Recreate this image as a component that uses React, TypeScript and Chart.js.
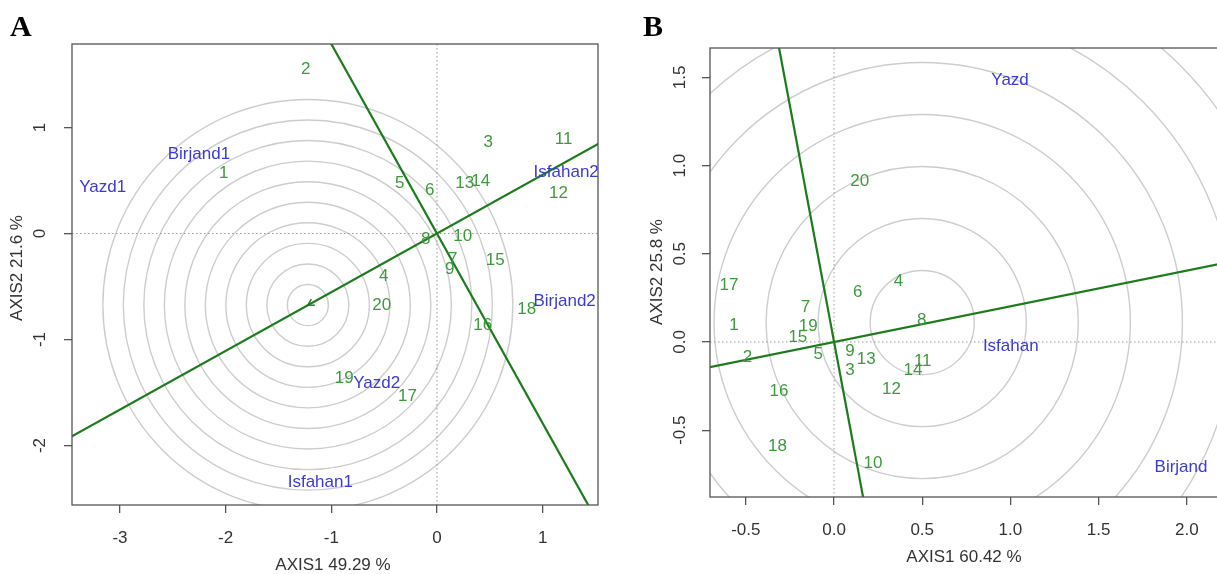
import React, { useEffect, useRef } from "react";
import { Chart, registerables } from "chart.js";

Chart.register(...registerables);

const FONT = '"Liberation Sans", Arial, sans-serif';
const SERIF = '"Liberation Serif", "Times New Roman", serif';
const GREEN_TEXT = "#3d9a3d";
const BLUE_TEXT = "#3a3ad6";
const LINE_GREEN = "#1c7c1c";
const CIRCLE_GRAY = "#cdcdcd";
const AXIS_GRAY = "#555555";
const TEXT_DARK = "#333333";

// ---------- shared ----------
const genotypes = ["1", "2", "3", "4", "5", "6", "7", "8", "9", "10", "11", "12", "13", "14", "15", "16", "17", "18", "19", "20"];

// ---------- Panel A ----------
const genoAX = [-2.017, -1.241, 0.484, -0.504, -0.352, -0.069, 0.149, -0.106, 0.121, 0.243, 1.199, 1.149, 0.262, 0.414, 0.552, 0.433, -0.28, 0.849, -0.878, -0.522];
const genoAY = [0.571, 1.552, 0.863, -0.408, 0.476, 0.41, -0.241, -0.052, -0.335, -0.024, 0.892, 0.382, 0.476, 0.49, -0.257, -0.87, -1.533, -0.712, -1.366, -0.675];
const envA = ["Yazd1", "Birjand1", "Isfahan2", "Birjand2", "Yazd2", "Isfahan1"];
const envAX = [-3.164, -2.253, 1.223, 1.208, -0.57, -1.104];
const envAY = [0.432, 0.75, 0.58, -0.643, -1.413, -2.351];
const lineA1X = [-1.06, 1.48];
const lineA1Y = [1.896, -2.648];
const lineA2X = [-3.6, 1.8];
const lineA2Y = [-1.994, 0.997];
const circleCenterA = [-1.222, -0.675];
const circleRadiiA = [0.194, 0.388, 0.582, 0.776, 0.97, 1.164, 1.358, 1.552, 1.746, 1.94];
const xTicksA = [-3, -2, -1, 0, 1];
const xTickLabelsA = ["-3", "-2", "-1", "0", "1"];
const yTicksA = [-2, -1, 0, 1];
const yTickLabelsA = ["-2", "-1", "0", "1"];
const xRangeA = [-3.454, 1.524];
const yRangeA = [-2.561, 1.788];

// ---------- Panel B ----------
const genoBX = [-0.567, -0.491, 0.091, 0.365, -0.089, 0.135, -0.162, 0.497, 0.091, 0.221, 0.503, 0.326, 0.183, 0.448, -0.205, -0.312, -0.595, -0.32, -0.146, 0.146];
const genoBY = [0.096, -0.087, -0.159, 0.342, -0.068, 0.283, 0.198, 0.125, -0.055, -0.688, -0.108, -0.268, -0.096, -0.163, 0.027, -0.278, 0.323, -0.59, 0.091, 0.909];
const envB = ["Yazd", "Isfahan", "Birjand"];
const envBX = [0.998, 1.002, 1.967];
const envBY = [1.485, -0.027, -0.71];
const lineB1X = [-0.34, 0.18];
const lineB1Y = [1.82, -0.96];
const lineB2X = [-0.8, 2.4];
const lineB2Y = [-0.162, 0.486];
const circleCenterB = [0.5, 0.11];
const circleRadiiB = [0.295, 0.59, 0.885, 1.18, 1.475, 1.77, 2.065, 2.36, 2.655];
const xTicksB = [-0.5, 0, 0.5, 1, 1.5, 2];
const xTickLabelsB = ["-0.5", "0.0", "0.5", "1.0", "1.5", "2.0"];
const yTicksB = [-0.5, 0, 0.5, 1, 1.5];
const yTickLabelsB = ["-0.5", "0.0", "0.5", "1.0", "1.5"];
const xRangeB = [-0.703, 2.188];
const yRangeB = [-0.879, 1.667];

type Panel = {
  letter: string;
  letterX: number;
  width: number;
  height: number;
  padTop: number;
  padRight: number;
  yAxisWidth: number;
  xAxisHeight: number;
  xRange: number[];
  yRange: number[];
  xTicks: number[];
  xTickLabels: string[];
  yTicks: number[];
  yTickLabels: string[];
  xTickLabelY: number;
  yTickLabelX: number;
  xTitle: string;
  xTitlePos: number[];
  yTitle: string;
  yTitlePos: number[];
  genoX: number[];
  genoY: number[];
  env: string[];
  envX: number[];
  envY: number[];
  line1X: number[];
  line1Y: number[];
  line2X: number[];
  line2Y: number[];
  center: number[];
  radii: number[];
  arrow: boolean;
  fontSize: number;
};

const pts = (xs: number[], ys: number[]) => xs.map((x, i) => ({ x, y: ys[i] }));

function makeChart(canvas: HTMLCanvasElement, p: Panel) {
  const plugin = {
    id: "biplot" + p.letter,
    beforeDatasetsDraw(chart: any) {
      const { ctx, chartArea: ca, scales } = chart;
      const xs = scales.x;
      const ys = scales.y;
      ctx.save();
      ctx.beginPath();
      ctx.rect(ca.left, ca.top, ca.right - ca.left, ca.bottom - ca.top);
      ctx.clip();
      const cx = xs.getPixelForValue(p.center[0]);
      const cy = ys.getPixelForValue(p.center[1]);
      ctx.strokeStyle = CIRCLE_GRAY;
      ctx.lineWidth = 1.4;
      for (const r of p.radii) {
        const rx = xs.getPixelForValue(p.center[0] + r) - cx;
        const ry = cy - ys.getPixelForValue(p.center[1] + r);
        ctx.beginPath();
        ctx.ellipse(cx, cy, rx, ry, 0, 0, Math.PI * 2);
        ctx.stroke();
      }
      const x0 = xs.getPixelForValue(0);
      const y0 = ys.getPixelForValue(0);
      ctx.setLineDash([1.5, 2.5]);
      ctx.strokeStyle = "#9a9a9a";
      ctx.lineWidth = 1;
      ctx.beginPath();
      ctx.moveTo(x0, ca.top);
      ctx.lineTo(x0, ca.bottom);
      ctx.moveTo(ca.left, y0);
      ctx.lineTo(ca.right, y0);
      ctx.stroke();
      ctx.restore();
    },
    afterDatasetsDraw(chart: any) {
      const { ctx, chartArea: ca, scales } = chart;
      const xs = scales.x;
      const ys = scales.y;
      ctx.save();
      // text labels of points
      chart.data.datasets.forEach((ds: any, i: number) => {
        if (!ds.textLabels) return;
        const meta = chart.getDatasetMeta(i);
        ctx.fillStyle = ds.textColor;
        ctx.font = `${p.fontSize}px ${FONT}`;
        ctx.textAlign = "center";
        ctx.textBaseline = "middle";
        meta.data.forEach((el: any, j: number) => {
          ctx.fillText(ds.textLabels[j], el.x, el.y);
        });
      });
      // small arrow at the circle centre
      if (p.arrow) {
        const cx = xs.getPixelForValue(p.center[0]);
        const cy = ys.getPixelForValue(p.center[1]);
        const dx = xs.getPixelForValue(p.line2X[1]) - xs.getPixelForValue(p.line2X[0]);
        const dy = ys.getPixelForValue(p.line2Y[1]) - ys.getPixelForValue(p.line2Y[0]);
        const len = Math.hypot(dx, dy);
        const ux = -dx / len;
        const uy = -dy / len;
        const s = 6;
        ctx.strokeStyle = LINE_GREEN;
        ctx.lineWidth = 1.5;
        ctx.beginPath();
        ctx.moveTo(cx - ux * s - uy * s * 0.6, cy - uy * s + ux * s * 0.6);
        ctx.lineTo(cx, cy);
        ctx.lineTo(cx - ux * s + uy * s * 0.6, cy - uy * s - ux * s * 0.6);
        ctx.stroke();
      }
      // plot box
      ctx.strokeStyle = AXIS_GRAY;
      ctx.lineWidth = 1.3;
      ctx.strokeRect(ca.left, ca.top, ca.right - ca.left, ca.bottom - ca.top);
      // tick labels
      ctx.fillStyle = TEXT_DARK;
      ctx.font = `${p.fontSize}px ${FONT}`;
      ctx.textAlign = "center";
      ctx.textBaseline = "middle";
      p.xTicks.forEach((v, i) => {
        ctx.fillText(p.xTickLabels[i], xs.getPixelForValue(v), p.xTickLabelY);
      });
      p.yTicks.forEach((v, i) => {
        ctx.save();
        ctx.translate(p.yTickLabelX, ys.getPixelForValue(v));
        ctx.rotate(-Math.PI / 2);
        ctx.fillText(p.yTickLabels[i], 0, 0);
        ctx.restore();
      });
      // axis titles
      ctx.fillText(p.xTitle, p.xTitlePos[0], p.xTitlePos[1]);
      ctx.save();
      ctx.translate(p.yTitlePos[0], p.yTitlePos[1]);
      ctx.rotate(-Math.PI / 2);
      ctx.fillText(p.yTitle, 0, 0);
      ctx.restore();
      // panel letter
      ctx.fillStyle = "#000";
      ctx.font = `bold 30px ${SERIF}`;
      ctx.textAlign = "left";
      ctx.textBaseline = "alphabetic";
      ctx.fillText(p.letter, p.letterX, 36);
      ctx.restore();
    },
  };

  const lineDs = (xs: number[], ys: number[]) => ({
    data: pts(xs, ys),
    showLine: true,
    borderColor: LINE_GREEN,
    borderWidth: 2.2,
    pointRadius: 0,
    pointHoverRadius: 0,
    clip: 0,
  });

  return new Chart(canvas, {
    type: "scatter",
    data: {
      datasets: [
        lineDs(p.line1X, p.line1Y),
        lineDs(p.line2X, p.line2Y),
        {
          data: pts(p.genoX, p.genoY),
          pointRadius: 0,
          pointHoverRadius: 0,
          textLabels: genotypes,
          textColor: GREEN_TEXT,
        } as any,
        {
          data: pts(p.envX, p.envY),
          pointRadius: 0,
          pointHoverRadius: 0,
          textLabels: p.env,
          textColor: BLUE_TEXT,
        } as any,
      ],
    },
    options: {
      responsive: false,
      animation: false,
      devicePixelRatio: 1,
      events: [],
      layout: { padding: { left: 0, right: p.padRight, top: p.padTop, bottom: 0 } },
      plugins: { legend: { display: false }, tooltip: { enabled: false } },
      scales: {
        x: {
          type: "linear",
          min: p.xRange[0],
          max: p.xRange[1],
          afterBuildTicks: (s: any) => {
            s.ticks = p.xTicks.map((v) => ({ value: v }));
          },
          afterFit: (s: any) => {
            s.height = p.xAxisHeight;
          },
          ticks: { display: false },
          grid: { drawOnChartArea: false, drawTicks: true, tickLength: 8, color: AXIS_GRAY, lineWidth: 1.3 },
          border: { display: false },
        },
        y: {
          type: "linear",
          min: p.yRange[0],
          max: p.yRange[1],
          afterBuildTicks: (s: any) => {
            s.ticks = p.yTicks.map((v) => ({ value: v }));
          },
          afterFit: (s: any) => {
            s.width = p.yAxisWidth;
          },
          ticks: { display: false },
          grid: { drawOnChartArea: false, drawTicks: true, tickLength: 8, color: AXIS_GRAY, lineWidth: 1.3 },
          border: { display: false },
        },
      },
    } as any,
    plugins: [plugin],
  });
}

const panelA: Panel = {
  letter: "A",
  letterX: 10,
  width: 600,
  height: 574,
  padTop: 44,
  padRight: 2,
  yAxisWidth: 72,
  xAxisHeight: 69,
  xRange: xRangeA,
  yRange: yRangeA,
  xTicks: xTicksA,
  xTickLabels: xTickLabelsA,
  yTicks: yTicksA,
  yTickLabels: yTickLabelsA,
  xTickLabelY: 538,
  yTickLabelX: 40,
  xTitle: "AXIS1 49.29 %",
  xTitlePos: [333, 565],
  yTitle: "AXIS2 21.6 %",
  yTitlePos: [17, 268],
  genoX: genoAX,
  genoY: genoAY,
  env: envA,
  envX: envAX,
  envY: envAY,
  line1X: lineA1X,
  line1Y: lineA1Y,
  line2X: lineA2X,
  line2Y: lineA2Y,
  center: circleCenterA,
  radii: circleRadiiA,
  arrow: true,
  fontSize: 17,
};

const panelB: Panel = {
  letter: "B",
  letterX: 43,
  width: 622,
  height: 574,
  padTop: 48,
  padRight: 2,
  yAxisWidth: 110,
  xAxisHeight: 77,
  xRange: xRangeB,
  yRange: yRangeB,
  xTicks: xTicksB,
  xTickLabels: xTickLabelsB,
  yTicks: yTicksB,
  yTickLabels: yTickLabelsB,
  xTickLabelY: 530,
  yTickLabelX: 80,
  xTitle: "AXIS1 60.42 %",
  xTitlePos: [364, 557],
  yTitle: "AXIS2 25.8 %",
  yTitlePos: [57, 272],
  genoX: genoBX,
  genoY: genoBY,
  env: envB,
  envX: envBX,
  envY: envBY,
  line1X: lineB1X,
  line1Y: lineB1Y,
  line2X: lineB2X,
  line2Y: lineB2Y,
  center: circleCenterB,
  radii: circleRadiiB,
  arrow: false,
  fontSize: 17,
};

export default function App() {
  const refA = useRef<HTMLCanvasElement | null>(null);
  const refB = useRef<HTMLCanvasElement | null>(null);

  useEffect(() => {
    const a = refA.current ? makeChart(refA.current, panelA) : null;
    const b = refB.current ? makeChart(refB.current, panelB) : null;
    return () => {
      a?.destroy();
      b?.destroy();
    };
  }, []);

  return (
    <div style={{ position: "fixed", left: 0, top: 0, width: 1217, height: 574, overflow: "hidden", background: "#fff" }}>
      <div style={{ position: "absolute", left: 0, top: 0, width: 600, height: 574, overflow: "hidden" }}>
        <canvas ref={refA} width={panelA.width} height={panelA.height} style={{ display: "block", width: panelA.width, height: panelA.height }} />
      </div>
      <div style={{ position: "absolute", left: 600, top: 0, width: 617, height: 574, overflow: "hidden" }}>
        <canvas ref={refB} width={panelB.width} height={panelB.height} style={{ display: "block", width: panelB.width, height: panelB.height }} />
      </div>
    </div>
  );
}
